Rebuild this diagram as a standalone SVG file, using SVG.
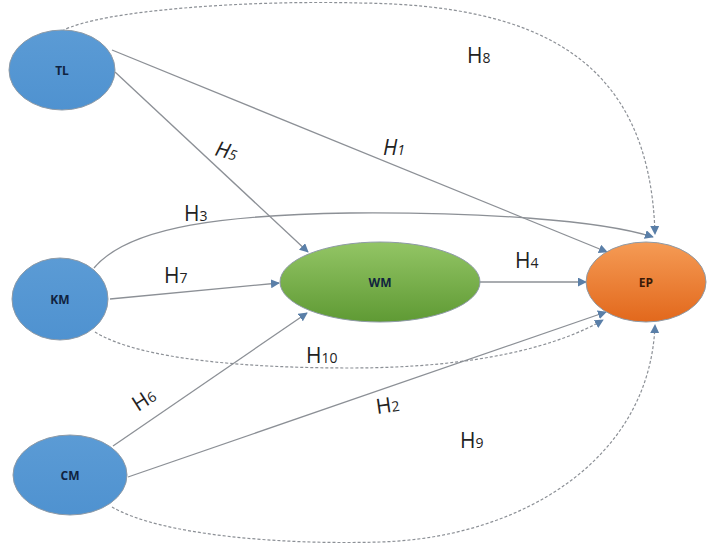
<svg xmlns="http://www.w3.org/2000/svg" width="713" height="544" viewBox="0 0 713 544">
<defs>
<linearGradient id="gBlue" x1="0" y1="0" x2="0" y2="1"><stop offset="0" stop-color="#5B9BD5"/><stop offset="1" stop-color="#4F92D0"/></linearGradient>
<linearGradient id="gGreen" x1="0" y1="0" x2="0" y2="1"><stop offset="0" stop-color="#93C565"/><stop offset="1" stop-color="#5F9A34"/></linearGradient>
<linearGradient id="gOrange" x1="0" y1="0" x2="0" y2="1"><stop offset="0" stop-color="#F59B55"/><stop offset="1" stop-color="#E2681C"/></linearGradient>
<marker id="arr" viewBox="0 0 10 10" refX="9" refY="5" markerWidth="9" markerHeight="9" markerUnits="userSpaceOnUse" orient="auto"><path d="M0,0 L10,5 L0,10 Z" fill="#5A7FA8"/></marker>
</defs>
<style>
.node{stroke:#8E9AA6;stroke-width:1}
.nl{font-family:"Open Sans","Liberation Sans",sans-serif;font-weight:bold;font-size:12px;text-anchor:middle;fill:#10233F}
.c{fill:none;stroke:#8C9096;stroke-width:1.3;marker-end:url(#arr)}
.d{fill:none;stroke:#8C9096;stroke-width:1.2;stroke-dasharray:3 2;marker-end:url(#arr)}
.h{font-family:"Open Sans","Liberation Sans",sans-serif;font-size:21px;fill:#222}
.s{font-size:14px}
</style>
<g id="connectors">
<path id="H8" class="d" d="M62,31 C100,10 250,0 360,3 C540,5 650,60 655,234"/>
<path id="H9" class="d" d="M112,507 C160,535 280,545 380,542 C520,538 650,460 655,325"/>
<path id="H10" class="d" d="M95,332 C140,360 250,368 350,368 C480,368 560,345 603,320"/>
<path id="H3" class="c" d="M94,268 C130,225 230,215 350,213 C480,212 600,220 653,237"/>
<path id="H1" class="c" d="M112,50 L607,252"/>
<path id="H5" class="c" d="M115,72 L308,252"/>
<path id="H7" class="c" d="M110,299 L279,283"/>
<path id="H4" class="c" d="M480,282 L586,282"/>
<path id="H6" class="c" d="M113,446 L307,313"/>
<path id="H2" class="c" d="M128,477 L606,312"/>
</g>
<g id="TL"><ellipse class="node" cx="62" cy="70" rx="53" ry="40" fill="url(#gBlue)"/><text class="nl" x="62" y="75">TL</text></g>
<g id="KM"><ellipse class="node" cx="60" cy="299" rx="48" ry="41" fill="url(#gBlue)"/><text class="nl" x="60" y="304">KM</text></g>
<g id="CM"><ellipse class="node" cx="70" cy="475" rx="57" ry="40" fill="url(#gBlue)"/><text class="nl" x="70" y="480">CM</text></g>
<g id="WM"><ellipse class="node" cx="380" cy="282" rx="100" ry="40" fill="url(#gGreen)"/><text class="nl" x="380" y="287">WM</text></g>
<g id="EP"><ellipse class="node" cx="646" cy="282" rx="60" ry="40" fill="url(#gOrange)"/><text class="nl" x="646" y="287" fill="#3A1A08" style="fill:#3A1A08">EP</text></g>
<g id="labels">
<text class="h" x="467" y="63">H<tspan class="s">8</tspan></text>
<text class="h" x="383" y="155" font-style="italic">H<tspan class="s">1</tspan></text>
<text class="h" transform="translate(214,155) rotate(15)" font-style="italic">H<tspan class="s">5</tspan></text>
<text class="h" x="184" y="221">H<tspan class="s">3</tspan></text>
<text class="h" x="164" y="283">H<tspan class="s">7</tspan></text>
<text class="h" x="515" y="268">H<tspan class="s">4</tspan></text>
<text class="h" x="306" y="363">H<tspan class="s">10</tspan></text>
<text class="h" transform="translate(138,412) rotate(-33)">H<tspan class="s">6</tspan></text>
<text class="h" transform="translate(377,414) rotate(-8)">H<tspan class="s">2</tspan></text>
<text class="h" x="460" y="448">H<tspan class="s">9</tspan></text>
</g>
</svg>
